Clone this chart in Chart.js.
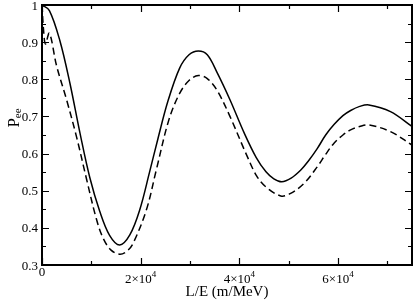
<!DOCTYPE html>
<html>
<head>
<meta charset="utf-8">
<script src="https://cdn.jsdelivr.net/npm/chart.js@4/dist/chart.umd.min.js"></script>
<style>
  html, body { margin: 0; padding: 0; background: #fff; }
  #wrap { width: 415px; height: 301px; position: relative; }
</style>
</head>
<body>
<div id="wrap"><canvas id="chart"></canvas></div>
<script>
// values (x in m/MeV)
const solidX = [0, 1500, 3600, 5650, 7700, 9700, 11700, 13700, 15750, 17800, 19800, 21800, 23500, 25500, 27900, 29800, 31700, 33500, 35500, 38100, 41000, 43400, 45400, 47000, 48600, 50500, 52460, 54000, 55820, 57500, 59190, 61000, 62560, 64400, 66260, 70640, 75000];
const solidY = [1.0, 0.985, 0.905, 0.79, 0.655, 0.535, 0.445, 0.38, 0.354, 0.381, 0.448, 0.55, 0.64, 0.74, 0.83, 0.866, 0.876, 0.866, 0.818, 0.745, 0.655, 0.59, 0.551, 0.532, 0.524, 0.534, 0.556, 0.58, 0.614, 0.65, 0.678, 0.702, 0.716, 0.727, 0.731, 0.713, 0.673];

const dashedX = [0, 300, 700, 1500, 2960, 4980, 7000, 9000, 11000, 12400, 14000, 15750, 17200, 18450, 21150, 23170, 25700, 27900, 29900, 31700, 33500, 35500, 38100, 41350, 43500, 45400, 48400, 50300, 53130, 55820, 57500, 59190, 61000, 62560, 64400, 66260, 70640, 75000];
const dashedY = [1.0, 0.935, 0.895, 0.924, 0.836, 0.745, 0.645, 0.533, 0.425, 0.372, 0.34, 0.329, 0.337, 0.358, 0.448, 0.556, 0.69, 0.762, 0.798, 0.81, 0.802, 0.77, 0.70, 0.60, 0.54, 0.51, 0.486, 0.492, 0.52, 0.565, 0.598, 0.628, 0.65, 0.664, 0.673, 0.677, 0.659, 0.623];

const xMajor = [0, 20000, 40000, 60000];
const xMinor = [10000, 30000, 50000, 70000];
const xTickLabels = [['0', ''], ['2×10', '4'], ['4×10', '4'], ['6×10', '4']];
const yMajor = [0.3, 0.4, 0.5, 0.6, 0.7, 0.8, 0.9, 1.0];
const yMinor = [0.35, 0.45, 0.55, 0.65, 0.75, 0.85, 0.95];
const yTickLabels = ['0.3', '0.4', '0.5', '0.6', '0.7', '0.8', '0.9', '1'];

const serif = '"Liberation Serif", "DejaVu Serif", serif';

function pts(xs, ys) {
  return xs.map((x, i) => ({ x: x, y: ys[i] }));
}

// frame, inward ticks and the labels (grace style)
const framePlugin = {
  id: 'frame',
  afterDraw(chart) {
    const ctx = chart.ctx;
    const a = chart.chartArea;
    const xs = chart.scales.x, ys = chart.scales.y;
    ctx.save();
    ctx.strokeStyle = '#000';
    ctx.lineWidth = 1.2;
    ctx.beginPath();
    const tickX = (vals, len) => vals.forEach(v => {
      const px = Math.round(xs.getPixelForValue(v)) + 0.5;
      ctx.moveTo(px, a.bottom); ctx.lineTo(px, a.bottom - len);
      ctx.moveTo(px, a.top); ctx.lineTo(px, a.top + len);
    });
    const tickY = (vals, len) => vals.forEach(v => {
      const py = Math.round(ys.getPixelForValue(v)) + 0.5;
      ctx.moveTo(a.left, py); ctx.lineTo(a.left + len, py);
      ctx.moveTo(a.right, py); ctx.lineTo(a.right - len, py);
    });
    tickX(xMajor, 7); tickX(xMinor, 4);
    tickY(yMajor, 7); tickY(yMinor, 4);
    ctx.stroke();

    ctx.lineWidth = 2;
    ctx.strokeRect(a.left, a.top, a.right - a.left, a.bottom - a.top);

    ctx.fillStyle = '#000';
    ctx.font = '13px ' + serif;
    ctx.textAlign = 'right';
    ctx.textBaseline = 'alphabetic';
    yMajor.forEach((v, i) => {
      ctx.fillText(yTickLabels[i], a.left - 4, ys.getPixelForValue(v) + 4.5);
    });

    xMajor.forEach((v, i) => {
      const [base, sup] = xTickLabels[i];
      const px = xs.getPixelForValue(v);
      ctx.font = '13px ' + serif;
      const wb = ctx.measureText(base).width;
      ctx.font = '9px ' + serif;
      const ws = sup ? ctx.measureText(sup).width : 0;
      const left = px - (wb + ws) / 2;
      const base_y = sup ? a.bottom + 18 : a.bottom + 11;
      ctx.textAlign = 'left';
      ctx.font = '13px ' + serif;
      ctx.fillText(base, left, base_y);
      if (sup) {
        ctx.font = '9px ' + serif;
        ctx.fillText(sup, left + wb, base_y - 6);
      }
    });

    ctx.font = '15px ' + serif;
    ctx.textAlign = 'center';
    ctx.fillText('L/E (m/MeV)', (a.left + a.right) / 2, 296);

    ctx.translate(19, 118);
    ctx.rotate(-Math.PI / 2);
    ctx.font = '17px ' + serif;
    const wp = ctx.measureText('P').width;
    ctx.font = '11px ' + serif;
    const we = ctx.measureText('ee').width;
    ctx.textAlign = 'left';
    ctx.font = '17px ' + serif;
    ctx.fillText('P', -(wp + we) / 2, 0);
    ctx.font = '11px ' + serif;
    ctx.fillText('ee', -(wp + we) / 2 + wp, 2);
    ctx.restore();
  }
};

new Chart(document.getElementById('chart'), {
  type: 'line',
  data: {
    datasets: [
      {
        data: pts(solidX, solidY),
        borderColor: '#000',
        borderWidth: 1.5,
        pointRadius: 0,
        tension: 0.35,
        fill: false
      },
      {
        data: pts(dashedX, dashedY),
        borderColor: '#000',
        borderWidth: 1.5,
        borderDash: [7, 4],
        pointRadius: 0,
        tension: 0.35,
        fill: false
      }
    ]
  },
  options: {
    responsive: true,
    maintainAspectRatio: false,
    animation: false,
    layout: { padding: { left: 42, top: 5, right: 3, bottom: 36 } },
    plugins: { legend: { display: false }, tooltip: { enabled: false } },
    scales: {
      x: { type: 'linear', min: 0, max: 75000, display: false },
      y: { type: 'linear', min: 0.3, max: 1, display: false }
    }
  },
  plugins: [framePlugin]
});
</script>
</body>
</html>
